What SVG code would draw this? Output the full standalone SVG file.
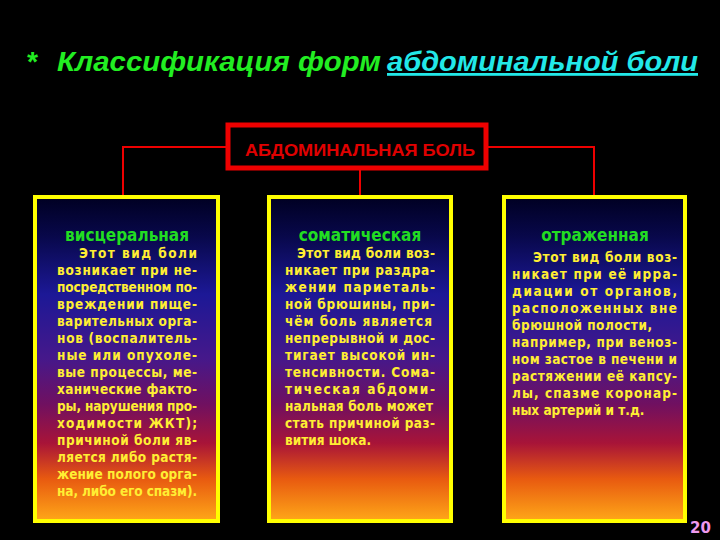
<svg xmlns="http://www.w3.org/2000/svg" width="720" height="540" viewBox="0 0 720 540">
<defs>
<linearGradient id="bg" x1="0" y1="0" x2="0" y2="1">
<stop offset="0" stop-color="#000022"/>
<stop offset="0.12" stop-color="#08084a"/>
<stop offset="0.3" stop-color="#1c1896"/>
<stop offset="0.5" stop-color="#46188a"/>
<stop offset="0.64" stop-color="#701060"/>
<stop offset="0.76" stop-color="#a81438"/>
<stop offset="0.87" stop-color="#e85a10"/>
<stop offset="1" stop-color="#ffa818"/>
</linearGradient>
<style>
.title{font-family:"Liberation Sans",Arial,sans-serif;font-weight:bold;font-style:italic;font-size:28px}
.box{fill:url(#bg);stroke:#ffff00;stroke-width:4}
.head{font-family:"DejaVu Sans Condensed","DejaVu Sans",sans-serif;font-size:17px;font-weight:bold;fill:#22dd22;text-anchor:middle}
.body{font-family:"DejaVu Sans Condensed","DejaVu Sans",sans-serif;font-size:13.5px;font-weight:bold;fill:#ffee33}
.conn{fill:none;stroke:#ee0000;stroke-width:2}
</style>
</defs>
<rect width="720" height="540" fill="#000"/>
<g id="title">
<text class="title" x="26" y="71" fill="#22ee22">*</text>
<text class="title" x="57" y="71" fill="#22ee22" textLength="324" lengthAdjust="spacingAndGlyphs">Классификация форм</text>
<text class="title" x="387" y="71" fill="#22e8e8" textLength="311" lengthAdjust="spacingAndGlyphs" text-decoration="underline">абдоминальной боли</text>
</g>
<g id="connectors">
<path class="conn" d="M226 147 H123 V196"/>
<path class="conn" d="M488 147 H594 V196"/>
<path class="conn" d="M360 170 V196"/>
</g>
<g id="root">
<rect x="228" y="125" width="258" height="43" fill="#000" stroke="#ee0000" stroke-width="5"/>
<text x="245" y="156" font-family="Liberation Sans,Arial,sans-serif" font-size="16" font-weight="bold" fill="#e00000" textLength="230" lengthAdjust="spacingAndGlyphs">АБДОМИНАЛЬНАЯ БОЛЬ</text>
</g>
<g id="visceral">
<rect class="box" x="35" y="197" width="183" height="324"/>
<text class="head" x="127" y="241">висцеральная</text>
<g class="body">
<text x="79" y="258" textLength="118">Этот вид боли</text>
<text x="57" y="275" textLength="140">возникает при не-</text>
<text x="57" y="292" textLength="140">посредственном по-</text>
<text x="57" y="309" textLength="140">вреждении пище-</text>
<text x="57" y="326" textLength="140">варительных орга-</text>
<text x="57" y="343" textLength="140">нов (воспалитель-</text>
<text x="57" y="360" textLength="140">ные или опухоле-</text>
<text x="57" y="377" textLength="140">вые процессы, ме-</text>
<text x="57" y="394" textLength="140">ханические факто-</text>
<text x="57" y="411" textLength="140">ры, нарушения про-</text>
<text x="57" y="428" textLength="140">ходимости ЖКТ);</text>
<text x="57" y="445" textLength="140">причиной боли яв-</text>
<text x="57" y="462" textLength="140">ляется либо растя-</text>
<text x="57" y="479" textLength="140">жение полого орга-</text>
<text x="57" y="496" textLength="140">на, либо его спазм).</text>
</g>
</g>
<g id="somatic">
<rect class="box" x="269" y="197" width="182" height="324"/>
<text class="head" x="360" y="241">соматическая</text>
<g class="body">
<text x="297" y="258" textLength="138">Этот вид боли воз-</text>
<text x="285" y="275" textLength="150">никает при раздра-</text>
<text x="285" y="292" textLength="150">жении париеталь-</text>
<text x="285" y="309" textLength="150">ной брюшины, при-</text>
<text x="285" y="326" textLength="147">чём боль является</text>
<text x="285" y="343" textLength="150">непрерывной и дос-</text>
<text x="285" y="360" textLength="150">тигает высокой ин-</text>
<text x="285" y="377" textLength="150">тенсивности. Сома-</text>
<text x="285" y="394" textLength="150">тическая абдоми-</text>
<text x="285" y="411" textLength="148">нальная боль может</text>
<text x="285" y="428" textLength="150">стать причиной раз-</text>
<text x="285" y="445">вития шока.</text>
</g>
</g>
<g id="referred">
<rect class="box" x="504" y="197" width="181" height="324"/>
<text class="head" x="595" y="241">отраженная</text>
<g class="body">
<text x="533" y="262" textLength="144">Этот вид боли воз-</text>
<text x="512" y="279" textLength="165">никает при её ирра-</text>
<text x="512" y="296" textLength="165">диации от органов,</text>
<text x="512" y="313" textLength="165">расположенных вне</text>
<text x="512" y="330" textLength="140">брюшной полости,</text>
<text x="512" y="347" textLength="165">например, при веноз-</text>
<text x="512" y="364" textLength="165">ном застое в печени и</text>
<text x="512" y="381" textLength="165">растяжении её капсу-</text>
<text x="512" y="398" textLength="165">лы, спазме коронар-</text>
<text x="512" y="415">ных артерий и т.д.</text>
</g>
</g>
<text x="690" y="533" font-family="DejaVu Sans,Verdana,sans-serif" font-size="15" font-weight="bold" fill="#ee99ee">20</text>
</svg>
